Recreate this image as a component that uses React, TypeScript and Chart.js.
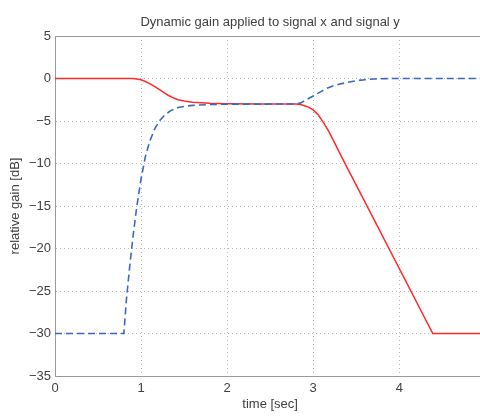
import React, { useEffect, useRef } from "react";
import { Chart, registerables } from "chart.js";

Chart.register(...registerables);

const redX = [0, 0.9, 0.95, 1.0, 1.05, 1.1, 1.16, 1.22, 1.27, 1.32, 1.38, 1.43, 1.5, 1.6, 1.7, 1.8, 2.0, 2.4, 2.8, 2.85, 2.9, 2.95, 3.0, 3.06, 3.12, 3.18, 3.23, 3.3, 3.39, 3.58, 4.39, 5.0];
const redY = [0, 0, -0.05, -0.15, -0.35, -0.6, -0.95, -1.35, -1.7, -2.0, -2.3, -2.5, -2.65, -2.78, -2.86, -2.92, -2.97, -3.0, -3.0, -3.05, -3.2, -3.4, -3.7, -4.3, -5.2, -6.2, -7.2, -8.6, -10.4, -14.1, -30, -30];

const blueX = [0, 0.8, 0.83, 0.87, 0.91, 0.95, 1.0, 1.05, 1.1, 1.16, 1.22, 1.28, 1.35, 1.43, 1.52, 1.6, 1.8, 2.0, 2.8, 2.85, 2.92, 3.0, 3.08, 3.16, 3.24, 3.31, 3.4, 3.5, 3.6, 3.7, 3.85, 4.0, 5.0];
const blueY = [-30, -30, -26.0, -21.9, -18.3, -15.1, -11.8, -9.2, -7.4, -5.9, -4.9, -4.25, -3.75, -3.42, -3.25, -3.16, -3.06, -3.02, -3.0, -2.9, -2.5, -2.06, -1.6, -1.15, -0.85, -0.65, -0.45, -0.26, -0.14, -0.06, -0.01, 0, 0];

const xTicks = [0, 1, 2, 3, 4];
const yTicks = [5, 0, -5, -10, -15, -20, -25, -30, -35];

const titleText = "Dynamic gain applied to signal x and signal y";
const xLabel = "time [sec]";
const yLabel = "relative gain [dB]";

const FONT = "'Liberation Sans', Arial, Helvetica, sans-serif";
const TEXT = "#404040";
const AXIS = "#9a9a9a";
const GRID = "#b8b8b8";

const fmt = (v: number) => (v < 0 ? "\u2212" + Math.abs(v) : String(v));

export default function App() {
  const ref = useRef<HTMLCanvasElement | null>(null);

  useEffect(() => {
    if (!ref.current) return;
    const decor = {
      id: "decor",
      afterDraw(chart: any) {
        const { ctx, chartArea } = chart;
        ctx.save();
        ctx.strokeStyle = AXIS;
        ctx.lineWidth = 1;
        ctx.beginPath();
        ctx.moveTo(chartArea.left, Math.round(chartArea.top) + 0.5);
        ctx.lineTo(chartArea.right, Math.round(chartArea.top) + 0.5);
        ctx.stroke();
        ctx.fillStyle = TEXT;
        ctx.font = `13px ${FONT}`;
        ctx.textAlign = "center";
        ctx.textBaseline = "middle";
        ctx.fillText(titleText, (chartArea.left + chartArea.right) / 2, 22);
        ctx.restore();
      },
    };
    const chart = new Chart(ref.current, {
      type: "line",
      data: {
        datasets: [
          {
            label: "signal y",
            data: blueX.map((x, i) => ({ x, y: blueY[i] })),
            borderColor: "#3a67c4",
            borderWidth: 1.6,
            borderDash: [7, 4],
            pointRadius: 0,
            tension: 0,
            fill: false,
          },
          {
            label: "signal x",
            data: redX.map((x, i) => ({ x, y: redY[i] })),
            borderColor: "#ff2a2a",
            borderWidth: 1.5,
            pointRadius: 0,
            tension: 0,
            fill: false,
          },
        ],
      },
      options: {
        animation: false,
        responsive: false,
        maintainAspectRatio: false,
        layout: { padding: { top: 36, left: 0, right: 0.7, bottom: 0 } },
        plugins: { legend: { display: false }, title: { display: false }, tooltip: { enabled: false } },
        scales: {
          x: {
            type: "linear",
            min: 0,
            max: 5,
            afterBuildTicks: (s: any) => {
              s.ticks = xTicks.map((v) => ({ value: v }));
            },
            afterFit: (s: any) => {
              s.height = 41;
            },
            ticks: {
              color: TEXT,
              font: { family: FONT, size: 13 },
              padding: 5,
              maxRotation: 0,
              autoSkip: false,
              callback: (v: any) => fmt(Number(v)),
            },
            grid: { color: GRID, drawTicks: false, lineWidth: 1 },
            border: { display: true, color: AXIS, dash: [1, 3], width: 1 },
            title: {
              display: true,
              text: xLabel,
              color: TEXT,
              font: { family: FONT, size: 13 },
              padding: { top: 0, bottom: 5 },
            },
          },
          y: {
            type: "linear",
            min: -35,
            max: 5,
            afterBuildTicks: (s: any) => {
              s.ticks = yTicks.map((v) => ({ value: v }));
            },
            afterFit: (s: any) => {
              s.width = 55;
            },
            ticks: {
              color: TEXT,
              font: { family: FONT, size: 13 },
              padding: 4,
              autoSkip: false,
              callback: (v: any) => fmt(Number(v)),
            },
            grid: { color: GRID, drawTicks: false, lineWidth: 1 },
            border: { display: true, color: AXIS, dash: [1, 3], width: 1 },
            title: {
              display: true,
              text: yLabel,
              color: TEXT,
              font: { family: FONT, size: 13 },
              padding: { top: 8, bottom: 0 },
            },
          },
        },
      },
      plugins: [decor],
    });
    return () => chart.destroy();
  }, []);

  return (
    <div style={{ position: "absolute", left: 0, top: 0, width: 480, height: 417, overflow: "hidden", background: "#fff" }}>
      <canvas ref={ref} width={486} height={417} style={{ display: "block", width: 486, height: 417 }} />
    </div>
  );
}
